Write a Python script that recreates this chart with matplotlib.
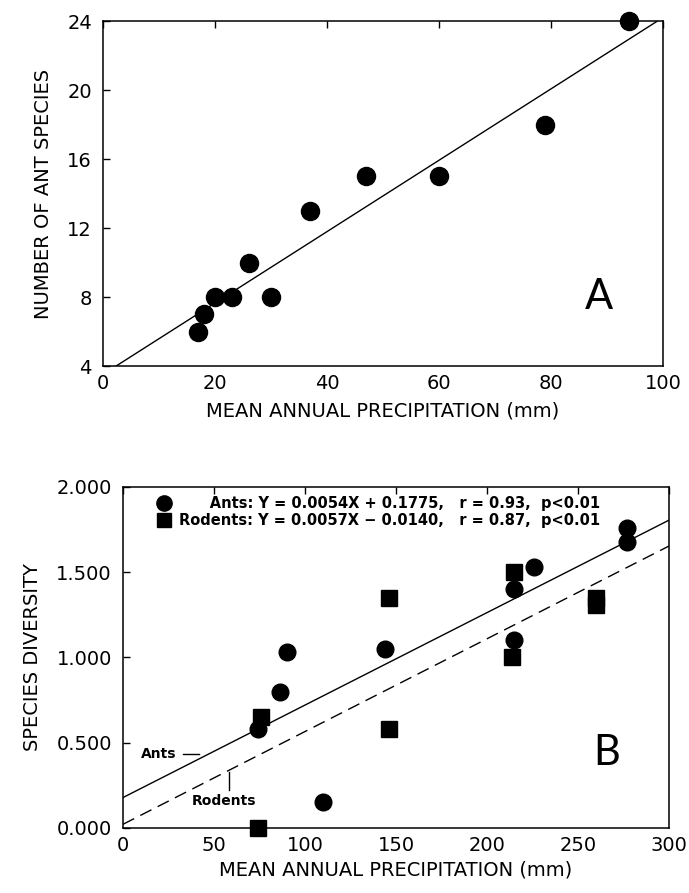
import numpy as np
import matplotlib
matplotlib.use("Agg")
import matplotlib.pyplot as plt
from matplotlib.lines import Line2D

# panel A: ant species richness vs precipitation
precip_a = [17, 18, 20, 23, 26, 30, 37, 47, 60, 79, 94]
n_species = [6, 7, 8, 8, 10, 8, 13, 15, 15, 18, 24]

# panel B: species diversity vs precipitation
ants_x = [74, 86, 90, 110, 144, 215, 215, 226, 277, 277]
ants_y = [0.58, 0.80, 1.03, 0.15, 1.05, 1.10, 1.40, 1.53, 1.68, 1.76]
rodents_x = [74, 76, 146, 146, 214, 215, 260, 260]
rodents_y = [0.00, 0.65, 0.58, 1.35, 1.00, 1.50, 1.31, 1.35]

ticks_a_x = [0, 20, 40, 60, 80, 100]
ticks_a_y = [4, 8, 12, 16, 20, 24]
ticks_b_x = [0, 50, 100, 150, 200, 250, 300]
ticks_b_y = [0.0, 0.5, 1.0, 1.5, 2.0]

ants_label = "Ants: Y = 0.0054X + 0.1775,   r = 0.93,  p<0.01"
rodents_label = "Rodents: Y = 0.0057X \u2212 0.0140,   r = 0.87,  p<0.01"

plt.rcParams["font.family"] = ["DejaVu Sans"]

fig = plt.figure(figsize=(6.89, 8.93), dpi=100)
ax_a = fig.add_axes([0.1495, 0.5901, 0.8128, 0.3863])
ax_b = fig.add_axes([0.1785, 0.0728, 0.7925, 0.3819])


def style_axes(ax):
    for sp in ax.spines.values():
        sp.set_linewidth(1.1)
    ax.tick_params(axis="x", top=True, bottom=False, labelbottom=True,
                   direction="in", length=5, width=1.0, labelsize=14, pad=6)
    ax.tick_params(axis="y", left=True, right=False, direction="in",
                   length=5, width=1.0, labelsize=14, pad=8)


# --- panel A ---
slope, inter = np.polyfit(precip_a, n_species, 1)
xx = np.array([0, 100])
ax_a.plot(xx, slope * xx + inter, color="black", lw=1.0)
ax_a.plot(precip_a, n_species, "o", color="black", ms=13, clip_on=False)
ax_a.set_xlim(0, 100)
ax_a.set_ylim(4, 24)
ax_a.set_xticks(ticks_a_x)
ax_a.set_yticks(ticks_a_y)
style_axes(ax_a)
ax_a.set_xlabel("MEAN ANNUAL PRECIPITATION (mm)", fontsize=14, labelpad=6)
ax_a.set_ylabel("NUMBER OF ANT SPECIES", fontsize=14, labelpad=10)
ax_a.text(88.5, 8, "A", fontsize=30, fontweight="normal", ha="center",
          va="center", family=["Lato", "DejaVu Sans"])

# --- panel B ---
xb = np.array([0, 300])
s1, i1 = np.polyfit(ants_x, ants_y, 1)
s2, i2 = np.polyfit(rodents_x, rodents_y, 1)
ax_b.plot(xb, s1 * xb + i1, color="black", lw=1.0)
ax_b.plot(xb, s2 * xb + i2, color="black", lw=1.0, ls=(0, (9, 5)))
ax_b.plot(ants_x, ants_y, "o", color="black", ms=12, clip_on=False)
ax_b.plot(rodents_x, rodents_y, "s", color="black", ms=11, clip_on=False)
ax_b.set_xlim(0, 300)
ax_b.set_ylim(0, 2.0)
ax_b.set_xticks(ticks_b_x)
ax_b.set_yticks(ticks_b_y)
ax_b.set_yticklabels([f"{v:.3f}" for v in ticks_b_y])
style_axes(ax_b)
ax_b.set_xlabel("MEAN ANNUAL PRECIPITATION (mm)", fontsize=14, labelpad=4)
ax_b.set_ylabel("SPECIES DIVERSITY", fontsize=14, labelpad=10)
ax_b.text(266, 0.44, "B", fontsize=30, fontweight="normal", ha="center",
          va="center", family=["Lato", "DejaVu Sans"])

# line labels
ax_b.text(10, 0.435, "Ants", fontsize=10, fontweight="bold", va="center")
ax_b.plot([33, 42], [0.435, 0.435], color="black", lw=1.0)
ax_b.text(38, 0.16, "Rodents", fontsize=10, fontweight="bold", va="center")
ax_b.plot([58, 58], [0.22, 0.33], color="black", lw=1.0)

handles = [Line2D([], [], marker="o", ls="none", color="black", ms=11),
           Line2D([], [], marker="s", ls="none", color="black", ms=10)]
leg = ax_b.legend(handles, ["      " + ants_label, rodents_label],
                  loc="upper left", bbox_to_anchor=(0.045, 1.0), frameon=False,
                  prop={"weight": "bold", "size": 10.5}, handletextpad=0.5,
                  labelspacing=0.1, borderaxespad=0.25, handlelength=1.0)

fig.savefig("out.png", dpi=100)
